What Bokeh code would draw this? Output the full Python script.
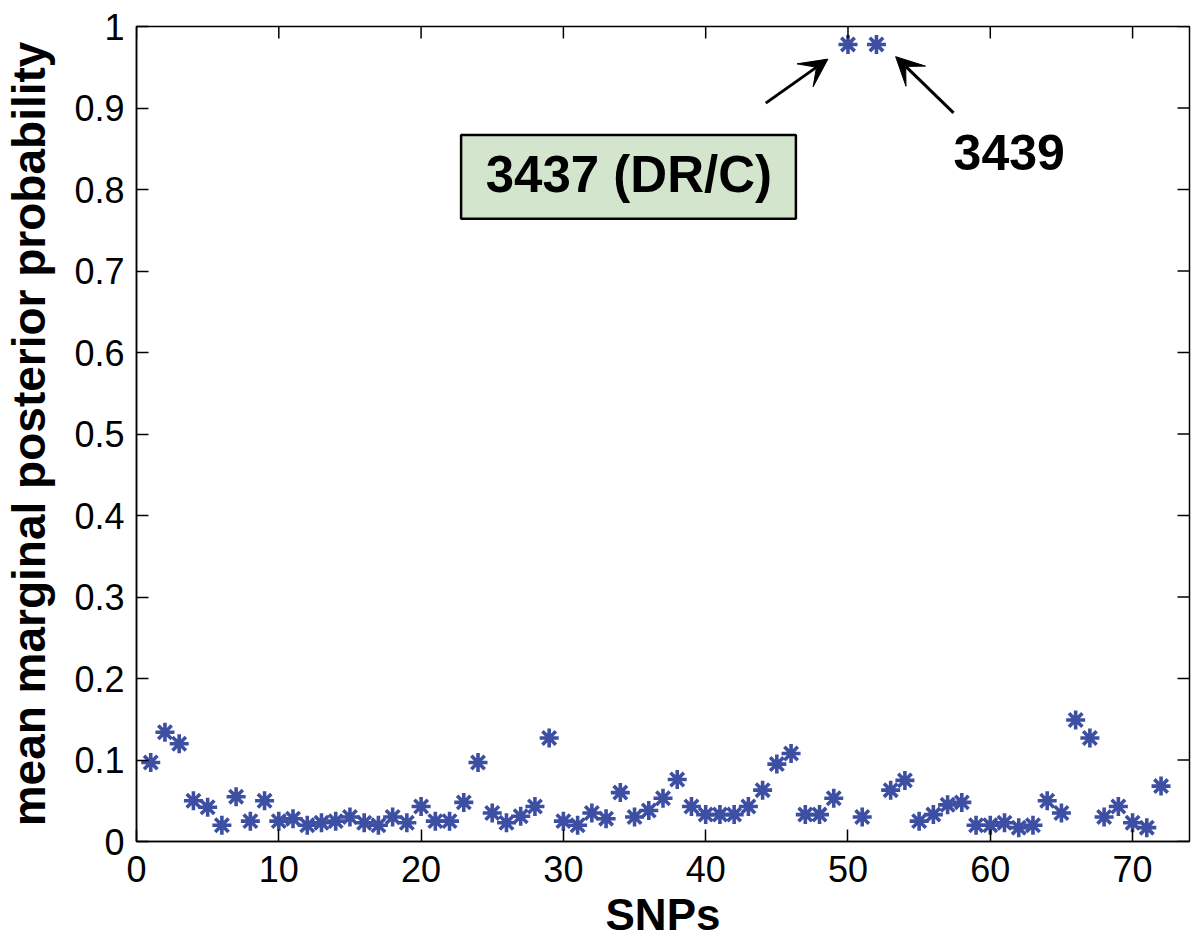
import math
from bokeh.plotting import figure
from bokeh.models import (ColumnDataSource, FixedTicker, Arrow, VeeHead,
                          Label, BoxAnnotation, Range1d)
from bokeh.embed import file_html
from bokeh.resources import INLINE

# ---- data ----
snp = list(range(1, 73))
prob = [0.097, 0.134, 0.120, 0.050, 0.042, 0.020, 0.055, 0.025, 0.050, 0.025,
        0.028, 0.020, 0.023, 0.025, 0.030, 0.023, 0.020, 0.030, 0.023, 0.043,
        0.025, 0.025, 0.048, 0.097, 0.035, 0.023, 0.031, 0.043, 0.127, 0.025,
        0.020, 0.035, 0.028, 0.060, 0.030, 0.038, 0.053, 0.076, 0.043, 0.033,
        0.033, 0.033, 0.043, 0.063, 0.095, 0.108, 0.033, 0.033, 0.053, 0.978,
        0.030, 0.978, 0.063, 0.075, 0.025, 0.033, 0.045, 0.048, 0.020, 0.020,
        0.023, 0.017, 0.020, 0.050, 0.035, 0.149, 0.127, 0.030, 0.043, 0.023,
        0.017, 0.068]

x_ticks = [0, 10, 20, 30, 40, 50, 60, 70]
y_ticks = [0, 0.1, 0.2, 0.3, 0.4, 0.5, 0.6, 0.7, 0.8, 0.9, 1]
y_tick_labels = ["0", "0.1", "0.2", "0.3", "0.4", "0.5", "0.6", "0.7", "0.8", "0.9", "1"]

x_label = "SNPs"
y_label = "mean marginal posterior probability"
box_text = "3437 (DR/C)"
side_text = "3439"

X_MIN, X_MAX = 0, 74
Y_MIN, Y_MAX = 0, 1

FONT = "Liberation Sans"
COLOR = "#3d4fa3"

p = figure(frame_width=1053, frame_height=815,
           min_border_left=124, min_border_right=6, min_border_top=26, min_border_bottom=10,
           x_range=Range1d(X_MIN, X_MAX), y_range=Range1d(Y_MIN, Y_MAX),
           output_backend="svg", toolbar_location=None, tools="")

p.xgrid.visible = False
p.ygrid.visible = False
p.outline_line_color = "black"
p.outline_line_width = 1.5
p.background_fill_color = "white"
p.border_fill_color = "white"

src = ColumnDataSource(dict(x=snp, y=prob))
p.scatter("x", "y", source=src, marker="asterisk", size=19, line_color=COLOR, line_width=3.6)

# axes
xa = p.xaxis[0]
xa.ticker = FixedTicker(ticks=x_ticks)
ya = p.yaxis[0]
ya.ticker = FixedTicker(ticks=y_ticks)
ya.major_label_overrides = {t: l for t, l in zip(y_ticks, y_tick_labels)}

for ax in (xa, ya):
    ax.major_tick_in = 12
    ax.major_tick_out = 0
    ax.minor_tick_line_color = None
    ax.axis_line_color = "black"
    ax.axis_line_width = 1.5
    ax.major_tick_line_width = 1.5
    ax.major_label_text_font = FONT
    ax.major_label_text_font_size = "36px"
    ax.major_label_text_color = "black"
    ax.axis_label_text_font = FONT
    ax.axis_label_text_font_style = "bold"
    ax.axis_label_text_color = "black"

xa.axis_label = x_label
xa.axis_label_text_font_size = "44px"
xa.major_label_standoff = 14
xa.axis_label_standoff = 5

ya.axis_label = y_label
ya.axis_label_text_font_size = "46px"
ya.major_label_standoff = 12
ya.axis_label_standoff = 16

# mirrored ticks on the right and top edges (inward, 12 px)
p.ray(x=[X_MAX] * len(y_ticks), y=y_ticks, length=12, length_units="screen",
      angle=math.pi, line_color="black", line_width=1.5)
p.ray(x=x_ticks, y=[Y_MAX] * len(x_ticks), length=12, length_units="screen",
      angle=-math.pi / 2, line_color="black", line_width=1.5)

# annotations
arrow1_start, arrow1_end = (44.22, 0.906), (48.59, 0.960)
arrow2_start, arrow2_end = (57.42, 0.894), (53.35, 0.963)
for (xs, ys), (xe, ye) in ((arrow1_start, arrow1_end), (arrow2_start, arrow2_end)):
    p.add_layout(Arrow(x_start=xs, y_start=ys, x_end=xe, y_end=ye,
                       line_color="black", line_width=3,
                       end=VeeHead(size=28, fill_color="black", line_color="black")))

box = BoxAnnotation(left=22.81, right=46.34, top=0.867, bottom=0.764,
                    fill_color="#d3e6cd", fill_alpha=1.0,
                    line_color="black", line_alpha=1.0, line_width=2.5)
p.add_layout(box)
p.add_layout(Label(x=34.6, y=0.8185, text=box_text, text_align="center",
                   text_baseline="alphabetic", text_font=FONT, text_font_style="bold",
                   text_font_size="51px", text_color="black"))
p.add_layout(Label(x=57.42, y=0.8456, text=side_text, text_align="left",
                   text_baseline="alphabetic", text_font=FONT, text_font_style="bold",
                   text_font_size="50px", text_color="black"))

open("out.html", "w").write(file_html(p, INLINE))
